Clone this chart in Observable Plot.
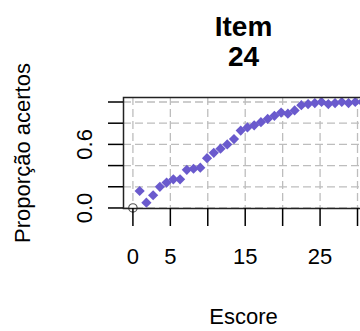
<!DOCTYPE html>
<html><head><meta charset="utf-8">
<script src="https://cdn.jsdelivr.net/npm/d3@7"></script>
<script src="https://cdn.jsdelivr.net/npm/@observablehq/plot@0.6"></script>
<style>html,body{margin:0;padding:0;background:#fff;overflow:hidden;width:360px;height:331px}
#chart svg{max-width:none !important;display:block}</style>
</head><body><div id="chart"></div>
<script>
const titleLines = ["Item", "24"];
const xLabel = "Escore";
const yLabel = "Proporção acertos";
const xTicks = [0, 5, 10, 15, 20, 25, 30];
const xTickLabels = [0, 5, 15, 25];
const yTicks = [0, 0.2, 0.4, 0.6, 0.8, 1];
const yTickLabels = [0, 0.6];
const escore = [0.9, 1.8, 2.7, 3.6, 4.5, 5.4, 6.3, 7.2, 8.1, 9.0, 9.9, 10.8, 11.7, 12.6, 13.5, 14.4, 15.3,
  16.2, 17.1, 18.0, 18.9, 19.8, 20.7, 21.6, 22.5, 23.4, 24.3, 25.2, 26.1, 27.0, 27.9, 28.8, 29.7, 30.6];
const proporcao = [0.16, 0.05, 0.12, 0.20, 0.24, 0.27, 0.27, 0.36, 0.37, 0.38, 0.47, 0.52, 0.56, 0.60, 0.65, 0.73, 0.76,
  0.78, 0.81, 0.84, 0.87, 0.90, 0.89, 0.92, 0.97, 0.98, 0.99, 1.00, 0.98, 0.99, 1.00, 0.99, 1.00, 1.00];
const escoreZero = [0];
const proporcaoZero = [0];

const points = escore.map((x, i) => ({x, y: proporcao[i]}));
const zero = escoreZero.map((x, i) => ({x, y: proporcaoZero[i]}));
const font = "'Liberation Sans', Arial, Helvetica, sans-serif";

const chart = Plot.plot({
  width: 364, height: 331,
  marginLeft: 123, marginRight: 1, marginTop: 97, marginBottom: 123,
  style: {fontFamily: font, fontSize: "22px", color: "#000", background: "#fff", maxWidth: "none"},
  x: {domain: [-1.257, 30.8]},
  y: {domain: [-0.005, 1.0425]},
  marks: [
    Plot.gridX(xTicks, {stroke: "#bdbdbd", strokeOpacity: 1, strokeWidth: 1.3, strokeDasharray: "8,4"}),
    Plot.gridY(yTicks, {stroke: "#bdbdbd", strokeOpacity: 1, strokeWidth: 1.3, strokeDasharray: "8,4"}),
    Plot.dot(points, {x: "x", y: "y", symbol: "diamond2", r: 4.6, fill: "#6A5ACD", stroke: "none"}),
    Plot.dot(zero, {x: "x", y: "y", r: 4.2, fill: "#fff", stroke: "#555", strokeWidth: 1.2}),
    Plot.frame({stroke: "#222", strokeWidth: 1.5}),
    Plot.axisX(xTicks, {tickSize: 18, tickPadding: 22, tickFormat: d => xTickLabels.includes(d) ? String(d) : "", strokeWidth: 1.5, fontSize: 22, label: null}),
    Plot.axisY(yTicks, {tickSize: 15, tickFormat: () => "", strokeWidth: 1.5, label: null}),
    Plot.text(yTickLabels, {y: d => d, text: d => d.toFixed(1), frameAnchor: "left", rotate: -90, dx: -32, textAnchor: "middle", lineAnchor: "bottom", fontSize: 22}),
    Plot.text([yLabel], {frameAnchor: "left", rotate: -90, dx: -94, textAnchor: "middle", lineAnchor: "bottom", fontSize: 22}),
    Plot.text([xLabel], {frameAnchor: "bottom", dy: 115, lineAnchor: "bottom", fontSize: 22}),
    Plot.text([titleLines.join("\n")], {frameAnchor: "top", dy: -32, lineAnchor: "bottom", fontSize: 28, fontWeight: "bold", lineHeight: 1.04})
  ]
});
document.getElementById("chart").appendChild(chart);
</script>
</body></html>
